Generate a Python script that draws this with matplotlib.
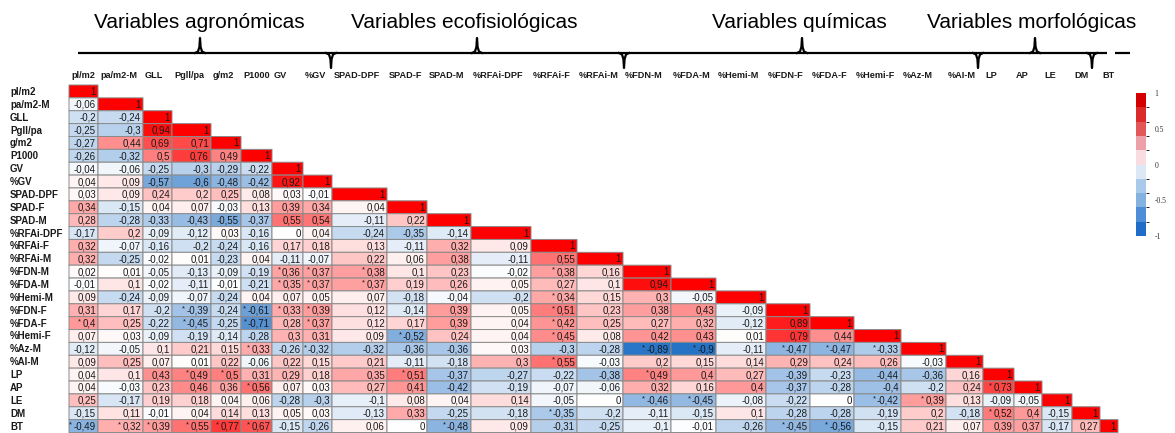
import numpy as np
import matplotlib
matplotlib.use("Agg")
import matplotlib.pyplot as plt
from matplotlib.colors import LinearSegmentedColormap, ListedColormap, BoundaryNorm, TwoSlopeNorm
from matplotlib.colorbar import ColorbarBase

# variable names (rows and columns of the correlation matrix)
labels = ["pl/m2", "pa/m2-M", "GLL", "Pgll/pa", "g/m2", "P1000", "GV", "%GV",
          "SPAD-DPF", "SPAD-F", "SPAD-M", "%RFAi-DPF", "%RFAi-F", "%RFAi-M",
          "%FDN-M", "%FDA-M", "%Hemi-M", "%FDN-F", "%FDA-F", "%Hemi-F",
          "%Az-M", "%AI-M", "LP", "AP", "LE", "DM", "BT"]

# lower triangle of the Pearson correlation matrix, row by row
corr_rows = [
	[1],
	[-0.06, 1],
	[-0.2, -0.24, 1],
	[-0.25, -0.3, 0.94, 1],
	[-0.27, 0.44, 0.69, 0.71, 1],
	[-0.26, -0.32, 0.5, 0.76, 0.49, 1],
	[-0.04, -0.06, -0.25, -0.3, -0.29, -0.22, 1],
	[0.04, 0.09, -0.57, -0.6, -0.48, -0.42, 0.92, 1],
	[0.03, 0.09, 0.24, 0.2, 0.25, 0.08, 0.03, -0.01, 1],
	[0.34, -0.15, 0.04, 0.07, -0.03, 0.13, 0.39, 0.34, 0.04, 1],
	[0.28, -0.28, -0.33, -0.43, -0.55, -0.37, 0.55, 0.54, -0.11, 0.22, 1],
	[-0.17, 0.2, -0.09, -0.12, 0.03, -0.16, 0, 0.04, -0.24, -0.35, -0.14, 1],
	[0.32, -0.07, -0.16, -0.2, -0.24, -0.16, 0.17, 0.18, 0.13, -0.11, 0.32, 0.09, 1],
	[0.32, -0.25, -0.02, 0.01, -0.23, 0.04, -0.11, -0.07, 0.22, 0.06, 0.38, -0.11, 0.55, 1],
	[0.02, 0.01, -0.05, -0.13, -0.09, -0.19, 0.36, 0.37, 0.38, 0.1, 0.23, -0.02, 0.38, 0.16, 1],
	[-0.01, 0.1, -0.02, -0.11, -0.01, -0.21, 0.35, 0.37, 0.37, 0.19, 0.26, 0.05, 0.27, 0.1, 0.94, 1],
	[0.09, -0.24, -0.09, -0.07, -0.24, 0.04, 0.07, 0.05, 0.07, -0.18, -0.04, -0.2, 0.34, 0.15, 0.3, -0.05, 1],
	[0.31, 0.17, -0.2, -0.39, -0.24, -0.61, 0.33, 0.39, 0.12, -0.14, 0.39, 0.05, 0.51, 0.23, 0.38, 0.43, -0.09, 1],
	[0.4, 0.25, -0.22, -0.45, -0.25, -0.71, 0.28, 0.37, 0.12, 0.17, 0.39, 0.04, 0.42, 0.25, 0.27, 0.32, -0.12, 0.89, 1],
	[0.07, 0.03, -0.09, -0.19, -0.14, -0.28, 0.3, 0.31, 0.09, -0.52, 0.24, 0.04, 0.45, 0.08, 0.42, 0.43, 0.01, 0.79, 0.44, 1],
	[-0.12, -0.05, 0.1, 0.21, 0.15, 0.33, -0.26, -0.32, -0.32, -0.36, -0.36, 0.03, -0.3, -0.28, -0.89, -0.9, -0.11, -0.47, -0.47, -0.33, 1],
	[0.09, 0.25, 0.07, 0.01, 0.22, -0.06, 0.22, 0.15, 0.21, -0.11, -0.18, 0.3, 0.55, -0.03, 0.2, 0.15, 0.14, 0.29, 0.24, 0.26, -0.03, 1],
	[0.04, 0.1, 0.43, 0.49, 0.5, 0.31, 0.29, 0.18, 0.35, 0.51, -0.37, -0.27, -0.22, -0.38, 0.49, 0.4, 0.27, -0.39, -0.23, -0.44, -0.36, 0.16, 1],
	[0.04, -0.03, 0.23, 0.46, 0.36, 0.56, 0.07, 0.03, 0.27, 0.41, -0.42, -0.19, -0.07, -0.06, 0.32, 0.16, 0.4, -0.37, -0.28, -0.4, -0.2, 0.24, 0.73, 1],
	[0.25, -0.17, 0.19, 0.18, 0.04, 0.06, -0.28, -0.3, -0.1, 0.08, 0.04, 0.14, -0.05, 0, -0.46, -0.45, -0.08, -0.22, 0, -0.42, 0.39, 0.13, -0.09, -0.05, 1],
	[-0.15, 0.11, -0.01, 0.04, 0.14, 0.13, 0.05, 0.03, -0.13, 0.33, -0.25, -0.18, -0.35, -0.2, -0.11, -0.15, 0.1, -0.28, -0.28, -0.19, 0.2, -0.18, 0.52, 0.4, -0.15, 1],
	[-0.49, 0.32, 0.39, 0.55, 0.77, 0.67, -0.15, -0.26, 0.06, 0, -0.48, 0.09, -0.31, -0.25, -0.1, -0.01, -0.26, -0.45, -0.56, -0.15, 0.21, 0.07, 0.39, 0.37, -0.17, 0.27, 1],
]

# (row, column) of the correlations marked significant with *
significant = [
	(14, 6), (14, 7), (14, 8), (14, 12),
	(15, 6), (15, 7), (15, 8),
	(16, 12),
	(17, 3), (17, 5), (17, 6), (17, 7), (17, 12),
	(18, 0), (18, 3), (18, 5), (18, 7), (18, 12),
	(19, 9), (19, 12),
	(20, 5), (20, 7), (20, 14), (20, 15), (20, 17), (20, 18), (20, 19),
	(21, 12),
	(22, 3), (22, 4), (22, 9), (22, 14),
	(23, 5), (23, 22),
	(24, 14), (24, 15), (24, 19), (24, 20),
	(25, 12), (25, 22),
	(26, 0), (26, 1), (26, 2), (26, 3), (26, 4), (26, 5), (26, 10), (26, 17), (26, 18),
]

group_titles = ["Variables agronómicas", "Variables ecofisiológicas",
                "Variables químicas", "Variables morfológicas"]

cbar_ticks = [1, 0.5, 0, -0.5, -1]
cbar_ticklabels = ["1", "0.5", "0", "-0.5", "-1"]

# sheet layout in pixels
W, H = 1175, 433
col_edges = [69, 98, 143, 172, 211, 241, 272, 303, 332, 387, 427, 471, 531, 577,
             623, 671, 716, 766, 810, 854, 901, 946, 983, 1014, 1042, 1072, 1100, 1118]
row_edges = np.linspace(85, 432.5, len(labels) + 1)
title_x = [199, 464, 799, 1032]
brace_y = 53
cusp_up = [200, 477, 802, 1035]
cusp_down = [331, 624, 978, 1092]


def fmt(v):
	if v == 1:
		return "1"
	s = ("%.2f" % v).rstrip("0").rstrip(".")
	if s in ("-0", ""):
		s = "0"
	return s.replace(".", ",")


def draw_braces(ax):
	ax.plot([78, 1107], [brace_y, brace_y], color="black", lw=1.6, solid_capstyle="butt")
	ax.plot([1115, 1130], [brace_y, brace_y], color="black", lw=1.6, solid_capstyle="butt")
	for cx in cusp_up:
		ax.plot([cx - 5, cx - 2, cx - 0.6, cx, cx + 0.6, cx + 2, cx + 5],
		        [brace_y, brace_y - 1.5, brace_y - 6, brace_y - 15, brace_y - 6, brace_y - 1.5, brace_y],
		        color="black", lw=1.6)
	for cx in cusp_down:
		ax.plot([cx - 5, cx - 2, cx - 0.6, cx, cx + 0.6, cx + 2, cx + 5],
		        [brace_y, brace_y + 1.5, brace_y + 6, brace_y + 15, brace_y + 6, brace_y + 1.5, brace_y],
		        color="black", lw=1.6)


def main():
	plt.rcParams["font.family"] = ["Liberation Sans", "DejaVu Sans"]
	n = len(labels)
	mat = np.full((n, n), np.nan)
	for i, row in enumerate(corr_rows):
		mat[i, :len(row)] = row
	mat = np.ma.masked_invalid(mat)

	fig = plt.figure(figsize=(W / 100.0, H / 100.0), dpi=100)
	ax = fig.add_axes([0, 0, 1, 1])
	ax.set_xlim(0, W)
	ax.set_ylim(H, 0)
	ax.axis("off")

	cmap = LinearSegmentedColormap.from_list("bwr_xl", ["#0F64C0", "#FFFFFF", "#FF0000"])
	norm = TwoSlopeNorm(vmin=-1, vcenter=0, vmax=1)
	# pcolor leaves the masked upper triangle out entirely
	ax.pcolor(col_edges, row_edges, mat, cmap=cmap, norm=norm,
	          edgecolors="#8a8a8a", linewidth=0.7)

	# cell values
	value_texts = {}
	for i, row in enumerate(corr_rows):
		yc = (row_edges[i] + row_edges[i + 1]) / 2.0
		for j, v in enumerate(row):
			t = ax.text(col_edges[j + 1] - 2, yc + 0.5, fmt(v), ha="right", va="center",
			            fontsize=7, color="#1a1a1a")
			value_texts[(i, j)] = t

	# row labels
	for i, lab in enumerate(labels):
		yc = (row_edges[i] + row_edges[i + 1]) / 2.0
		ax.text(10, yc + 0.5, lab, ha="left", va="center", fontsize=7, fontweight="bold",
		        color="#1a1a1a")

	# column labels
	for j, lab in enumerate(labels):
		ax.text(col_edges[j] + 2, 76, lab, ha="left", va="center", fontsize=6.6,
		        fontweight="bold", color="#1a1a1a")

	# group titles and braces
	for x, title in zip(title_x, group_titles):
		ax.text(x, 22, title, ha="center", va="center", fontsize=15, color="black")
	draw_braces(ax)

	# asterisks in front of significant values
	renderer = fig.canvas.get_renderer()
	for (i, j) in significant:
		bb = value_texts[(i, j)].get_window_extent(renderer=renderer)
		ax.text(bb.x0 - 1.5, row_edges[i] + 1.5, "*", ha="right", va="top",
		        fontsize=5.5, color="#1a1a1a")

	# discrete colour key
	key_colors = ["#1F6DC9", "#4E8ED8", "#86B2E0", "#AACAEC", "#DCE8F6",
	              "#F9DCE0", "#EDA0A8", "#E25858", "#DA2A2A", "#D40000"]
	cax = fig.add_axes([1136.0 / W, (H - 236.0) / H, 10.0 / W, 143.0 / H])
	cb = ColorbarBase(cax, cmap=ListedColormap(key_colors),
	                  norm=BoundaryNorm(np.linspace(-1, 1, 11), 10),
	                  ticks=cbar_ticks, orientation="vertical")
	cb.outline.set_visible(False)
	cb.ax.set_yticklabels(cbar_ticklabels, family=["Liberation Serif", "DejaVu Serif"],
	                      fontsize=5.5, color="#333333")
	cb.ax.tick_params(length=0, pad=6)

	fig.savefig("out.png", dpi=100)


if __name__ == '__main__':
	main()
